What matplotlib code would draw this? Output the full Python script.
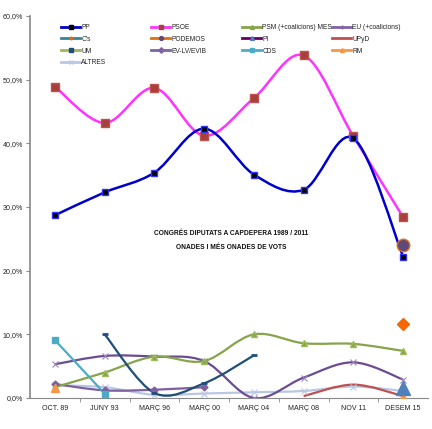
import numpy as np
import matplotlib
matplotlib.use('Agg')
import matplotlib.pyplot as plt
from matplotlib.path import Path
from matplotlib.patches import PathPatch
from matplotlib.lines import Line2D
from matplotlib.ticker import FuncFormatter, FixedLocator

plt.rcParams['font.family'] = ['Liberation Sans', 'DejaVu Sans']

eleccions = ['OCT. 89', 'JUNY 93', 'MARÇ 96', 'MARÇ 00', 'MARÇ 04', 'MARÇ 08', 'NOV 11', 'DESEM 15']

# vots (%) per eleccio, None = no es presenta
pp = [28.7, 32.3, 35.4, 42.3, 35.1, 32.7, 40.8, 22.2]
psoe = [48.9, 43.2, 48.7, 41.2, 47.1, 53.8, 41.1, 28.4]
psm = [1.7, 4.0, 6.5, 5.8, 10.0, 8.6, 8.5, 7.4]
eu = [5.3, 6.6, 6.5, 5.8, 0.0, 3.2, 5.6, 2.9]
cs = [None, None, None, None, None, None, None, 11.7]
podemos = [None, None, None, None, None, None, None, 24.1]
pi = [None, None, None, None, None, None, None, 1.5]
upyd = [None, None, None, None, None, 0.3, 2.1, 0.3]
um = [None, 10.0, 0.8, 2.3, 6.7, None, None, None]
evlv = [2.2, 1.2, 1.3, 1.7, None, None, None, None]
cds = [9.1, 0.7, None, None, None, None, None, None]
rm = [1.6, None, None, None, None, None, None, 0.1]
altres = [2.0, 1.7, 0.5, 0.7, 0.9, 1.1, 1.8, 1.1]


def smooth_path(xs, ys):
    # corba suau estil Excel (bezier cubica)
    pts = list(zip(xs, ys))
    verts = [pts[0]]
    codes = [Path.MOVETO]
    for i in range(len(pts) - 1):
        p0 = pts[i - 1] if i > 0 else pts[i]
        p1 = pts[i]
        p2 = pts[i + 1]
        p3 = pts[i + 2] if i + 2 < len(pts) else pts[i + 1]
        c1 = (p1[0] + (p2[0] - p0[0]) / 6, p1[1] + (p2[1] - p0[1]) / 6)
        c2 = (p2[0] - (p3[0] - p1[0]) / 6, p2[1] - (p3[1] - p1[1]) / 6)
        verts += [c1, c2, p2]
        codes += [Path.CURVE4] * 3
    return Path(verts, codes)


def serie(ax, vals, color, lw=1.6, smooth=True, connect=True, **mk):
    xs = [i for i, v in enumerate(vals) if v is not None]
    ys = [v for v in vals if v is not None]
    if connect and len(xs) > 1:
        if smooth:
            ax.add_patch(PathPatch(smooth_path(xs, ys), facecolor='none', edgecolor=color, lw=lw, zorder=2))
        else:
            ax.plot(xs, ys, color=color, lw=lw, zorder=2)
    if mk:
        ax.plot(xs, ys, ls='none', zorder=3, **mk)


fig = plt.figure(figsize=(4.32, 4.29), dpi=100)
ax = fig.add_axes([30 / 432, 31 / 429, 398 / 432, 382 / 429])

serie(ax, altres, '#B9C7E5', marker='x', ms=4, mec='#B9C7E5', mew=0.8)
serie(ax, upyd, '#C0504D')
serie(ax, evlv, '#7F5FA0', marker='D', ms=3.5, mfc='#7F5FA0', mec='#7F5FA0')
serie(ax, eu, '#6B4C93', marker='x', ms=4, mec='#9D86BE', mew=0.8)
serie(ax, psm, '#86A44A', marker='^', ms=5, mfc='#86A44A', mec='#9BBB59')
serie(ax, um, '#1F4E79', marker='_', ms=5, mec='#1F4E79', mew=2)
serie(ax, cds, '#4BACC6', smooth=False, marker='s', ms=5, mfc='#4BACC6', mec='#4BACC6')
serie(ax, rm, '#F79646', connect=False, marker='^', ms=6, mfc='#F79646', mec='#F79646')
serie(ax, pi, '#4F81BD', connect=False, marker='^', ms=10, mfc='#4F81BD', mec='#4F81BD')
serie(ax, cs, '#FF6600', connect=False, marker='D', ms=6, mfc='#FF6600', mec='#E46C0A')
serie(ax, podemos, '#604A7B', connect=False, marker='o', ms=9, mfc='#604A7B', mec='#E46C0A')
serie(ax, psoe, '#FF33FF', lw=1.8, marker='s', ms=5.5, mfc='#A5403A', mec='#C0504D')
serie(ax, pp, '#0000CC', lw=1.8, marker='s', ms=5, mfc='black', mec='#3333FF')

ax.set_xlim(-0.5, 7.5)
ax.set_ylim(0, 60)
ax.set_xticks(range(len(eleccions)))
ax.set_xticklabels(eleccions, fontsize=5.1, color='#222222')
ax.xaxis.set_minor_locator(FixedLocator(np.arange(0.5, 7.5, 1)))
ax.tick_params(axis='x', which='major', length=0, pad=5)
ax.tick_params(axis='x', which='minor', length=3, color='#888888')
ax.set_yticks(np.arange(0, 61, 10))
ax.yaxis.set_major_formatter(FuncFormatter(lambda v, p: ('%.1f%%' % v).replace('.', ',')))
ax.tick_params(axis='y', labelsize=5.1, length=3, pad=2, color='#888888', labelcolor='#222222')
for s in ['top', 'right']:
    ax.spines[s].set_visible(False)
ax.spines['left'].set_color('#888888')
ax.spines['left'].set_linewidth(1.2)
ax.spines['bottom'].set_color('#888888')

ax.text(3.55, 25.9, 'CONGRÉS DIPUTATS A CAPDEPERA 1989 / 2011', ha='center', va='center',
        fontsize=4.8, fontweight='bold', color='#111111')
ax.text(3.55, 23.7, 'ONADES I MÉS ONADES DE VOTS', ha='center', va='center',
        fontsize=4.8, fontweight='bold', color='#111111')

# llegenda en quatre columnes
llegenda = [
    [('PP', '#0000CC', 's', 'black'), ("C's", '#31859C', '+', '#E46C0A'),
     ('UM', '#9BBB59', 's', '#1F4E79'), ('ALTRES', '#B9C7E5', 'x', '#B9C7E5')],
    [('PSOE', '#FF33FF', 's', '#A5403A'), ('PODEMOS', '#E46C0A', 'o', '#604A7B'),
     ('EV-LV/EVIB', '#8064A2', 'D', '#8064A2')],
    [('PSM (+coalicions) MES', '#86A44A', '^', '#86A44A'), ('PI', '#660066', '^', '#4F81BD'),
     ('CDS', '#4BACC6', 's', '#4BACC6')],
    [('EU (+coalicions)', '#8064A2', '+', '#8064A2'), ('UPyD', '#C0504D', '', '#C0504D'),
     ('RM', '#F79646', '^', '#F79646')],
]
col_x = [61, 151, 242, 332]
for cx, col in zip(col_x, llegenda):
    handles = [Line2D([], [], color=c, lw=2, marker=m, ms=2.8, mfc=f, mec=f) for _, c, m, f in col]
    labels = [t for t, _, _, _ in col]
    lg = fig.legend(handles, labels, loc='upper left', bbox_to_anchor=(cx / 432, 1 - 24 / 429),
                    frameon=False, fontsize=4.8, handlelength=2.9, handletextpad=0.15,
                    labelspacing=0.72, borderaxespad=0, borderpad=0)
    for t in lg.get_texts():
        t.set_color('#222222')

fig.savefig('out.png', dpi=100)
